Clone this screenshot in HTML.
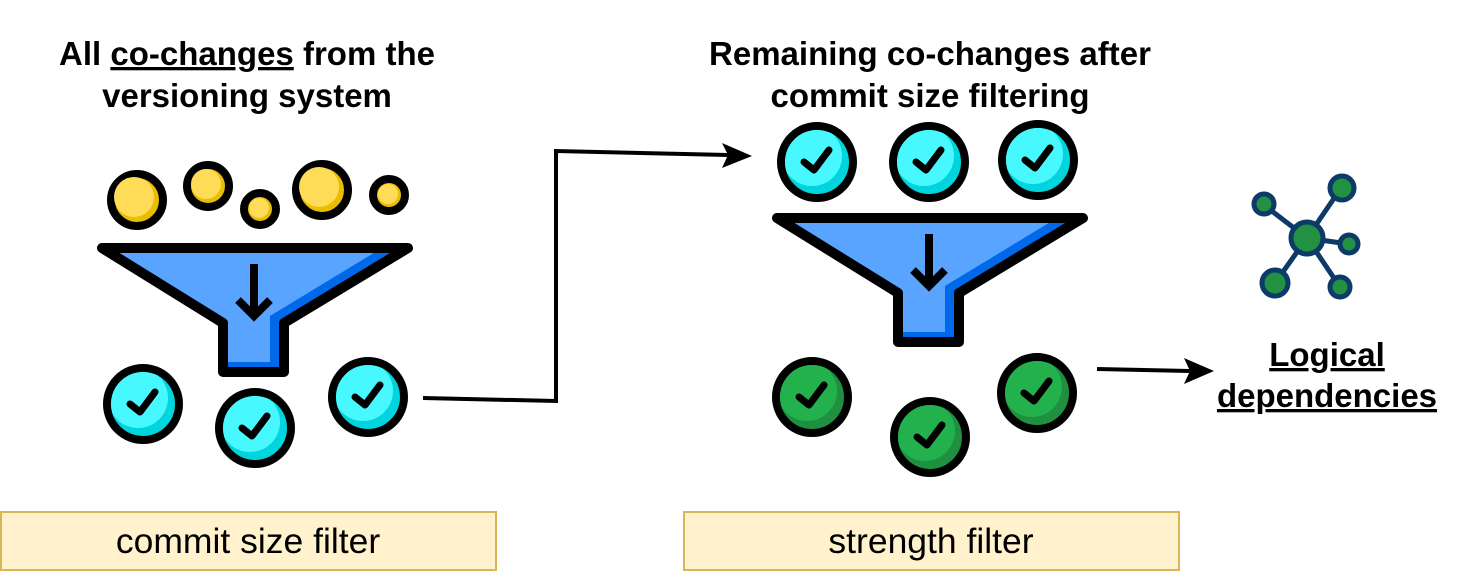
<!DOCTYPE html>
<html><head><meta charset="utf-8"><style>
html,body{margin:0;padding:0;background:#fff;}
svg{display:block;}
text{font-family:"Liberation Sans",Arial,sans-serif;}
</style></head><body>
<svg width="1458" height="573" viewBox="0 0 1458 573" xmlns="http://www.w3.org/2000/svg">
<defs>
<clipPath id="cc"><circle cx="0" cy="0" r="32"/></clipPath>
<g id="cyan">
<circle r="36" fill="#00d4dd" stroke="#000" stroke-width="8"/>
<g clip-path="url(#cc)"><circle cx="-5" cy="-6" r="30" fill="#48f8ff"/></g>
<polyline points="-13,0 -3,8 12,-12" fill="none" stroke="#000" stroke-width="7" stroke-linecap="round" stroke-linejoin="round"/>
</g>
<g id="green">
<circle r="36" fill="#1e9040" stroke="#000" stroke-width="8"/>
<g clip-path="url(#cc)"><circle cx="-5" cy="-6" r="30" fill="#22b14c"/></g>
<polyline points="-13,0 -3,8 12,-12" fill="none" stroke="#000" stroke-width="7" stroke-linecap="round" stroke-linejoin="round"/>
</g>
<g id="funnel">
<polygon points="0,0 306,0 182,75 182,124 121,124 121,75" fill="#0069ea"/>
<polygon points="0,0 280,0 168,68 168,114 121,114 121,75" fill="#58a4ff"/>
<polygon points="0,0 306,0 182,75 182,124 121,124 121,75" fill="none" stroke="#000" stroke-width="10" stroke-linejoin="round"/>
<line x1="152" y1="16" x2="152" y2="68" stroke="#000" stroke-width="8"/>
<polyline points="136,52 152,68 168,52" fill="none" stroke="#000" stroke-width="8"/>
</g>
</defs>

<text x="247" y="65" font-size="33" font-weight="bold" text-anchor="middle">All <tspan text-decoration="underline">co-changes</tspan> from the</text>
<text x="247" y="107" font-size="33" font-weight="bold" text-anchor="middle">versioning system</text>
<text x="930" y="65" font-size="33" font-weight="bold" text-anchor="middle">Remaining co-changes after</text>
<text x="930" y="107" font-size="33" font-weight="bold" text-anchor="middle">commit size filtering</text>

<g stroke="#000" stroke-width="8">
<circle cx="137" cy="200" r="26" fill="#e8be00"/><circle cx="134" cy="197" r="20" fill="#ffdc57" stroke="none"/>
<circle cx="208" cy="186" r="21" fill="#e8be00"/><circle cx="206" cy="184" r="15" fill="#ffdc57" stroke="none"/>
<circle cx="260" cy="209" r="16" fill="#e8be00"/><circle cx="259" cy="208" r="10" fill="#ffdc57" stroke="none"/>
<circle cx="322" cy="190" r="26" fill="#e8be00"/><circle cx="319" cy="187" r="20" fill="#ffdc57" stroke="none"/>
<circle cx="389" cy="195" r="16" fill="#e8be00"/><circle cx="388" cy="194" r="10" fill="#ffdc57" stroke="none"/>
</g>

<use href="#funnel" x="102" y="248"/>
<use href="#cyan" x="143" y="404"/>
<use href="#cyan" x="255" y="428"/>
<use href="#cyan" x="368" y="397"/>

<use href="#cyan" x="817" y="162"/>
<use href="#cyan" x="929" y="162"/>
<use href="#cyan" x="1038" y="160"/>
<use href="#funnel" x="777" y="218"/>
<use href="#green" x="812" y="397"/>
<use href="#green" x="930" y="437"/>
<use href="#green" x="1037" y="393"/>

<g stroke="#0d3a66" stroke-width="5">
<line x1="1307" y1="238" x2="1264" y2="205"/>
<line x1="1307" y1="238" x2="1341" y2="188"/>
<line x1="1307" y1="238" x2="1348" y2="244"/>
<line x1="1307" y1="238" x2="1275" y2="283"/>
<line x1="1307" y1="238" x2="1340" y2="287"/>
<g fill="#239142">
<circle cx="1307" cy="238" r="16"/>
<circle cx="1264" cy="204" r="10"/>
<circle cx="1342" cy="188" r="12"/>
<circle cx="1349" cy="244" r="9"/>
<circle cx="1275" cy="283" r="13"/>
<circle cx="1340" cy="287" r="10"/>
</g></g>

<text x="1327" y="366" font-size="33" font-weight="bold" text-anchor="middle" text-decoration="underline">Logical</text>
<text x="1327" y="407" font-size="33" font-weight="bold" text-anchor="middle" text-decoration="underline">dependencies</text>

<polyline points="423,398 556,401 556,151 728,155" fill="none" stroke="#000" stroke-width="4"/>
<polygon points="752,156 722,143 728,155 722,168" fill="#000"/>
<line x1="1097" y1="369" x2="1190" y2="371" stroke="#000" stroke-width="4"/>
<polygon points="1214,371 1184,358 1190,371 1184,384" fill="#000"/>

<rect x="1" y="512" width="495" height="58" fill="#fff2cc" stroke="#d6b656" stroke-width="2"/>
<text x="248" y="553" font-size="35.5" text-anchor="middle">commit size filter</text>
<rect x="684" y="512" width="495" height="58" fill="#fff2cc" stroke="#d6b656" stroke-width="2"/>
<text x="931" y="553" font-size="35.5" text-anchor="middle">strength filter</text>
</svg>
</body></html>
